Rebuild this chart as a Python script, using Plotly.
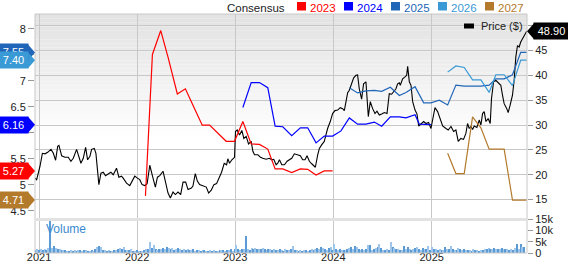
import plotly.graph_objects as go
import pandas as pd

# ---------------- data ----------------
price_t = [
    2020.959, 2020.976, 2021.010, 2021.034, 2021.061, 2021.088, 2021.122, 2021.146, 2021.169, 2021.190,
    2021.203, 2021.231, 2021.264, 2021.298, 2021.325, 2021.349, 2021.383, 2021.400, 2021.427, 2021.451,
    2021.475, 2021.495, 2021.519, 2021.536, 2021.563, 2021.580, 2021.610, 2021.631, 2021.654, 2021.678,
    2021.705, 2021.732, 2021.756, 2021.790, 2021.814, 2021.841, 2021.858, 2021.892, 2021.925, 2021.953,
    2021.976, 2022.003, 2022.027, 2022.051, 2022.078, 2022.102, 2022.129, 2022.153, 2022.186, 2022.207,
    2022.231, 2022.264, 2022.288, 2022.315, 2022.339, 2022.366, 2022.390, 2022.417, 2022.444, 2022.468,
    2022.495, 2022.519, 2022.553, 2022.569, 2022.593, 2022.614, 2022.637, 2022.671, 2022.705, 2022.729,
    2022.756, 2022.783, 2022.810, 2022.834, 2022.861, 2022.888, 2022.912, 2022.925, 2022.942, 2022.966,
    2022.993, 2023.003, 2023.020, 2023.044, 2023.068, 2023.088, 2023.112, 2023.136, 2023.163, 2023.180,
    2023.197, 2023.231, 2023.258, 2023.281, 2023.315, 2023.349, 2023.373, 2023.393, 2023.417, 2023.434,
    2023.451, 2023.475, 2023.502, 2023.529, 2023.553, 2023.576, 2023.603, 2023.637, 2023.664, 2023.688,
    2023.712, 2023.732, 2023.756, 2023.780, 2023.800, 2023.817, 2023.841, 2023.858, 2023.881, 2023.908,
    2023.925, 2023.942, 2023.969, 2023.993, 2024.017, 2024.044, 2024.071, 2024.095, 2024.112, 2024.129,
    2024.146, 2024.163, 2024.186, 2024.207, 2024.231, 2024.247, 2024.264, 2024.288, 2024.308, 2024.332,
    2024.356, 2024.376, 2024.400, 2024.424, 2024.444, 2024.468, 2024.492, 2024.519, 2024.546, 2024.569,
    2024.593, 2024.614, 2024.637, 2024.654, 2024.671, 2024.681, 2024.705, 2024.729, 2024.746, 2024.756,
    2024.773, 2024.790, 2024.807, 2024.831, 2024.851, 2024.868, 2024.892, 2024.919, 2024.942, 2024.969,
    2024.993, 2025.020, 2025.034, 2025.061, 2025.088, 2025.112, 2025.146, 2025.169, 2025.197, 2025.224,
    2025.247, 2025.271, 2025.298, 2025.325, 2025.349, 2025.366, 2025.383, 2025.400, 2025.417, 2025.434,
    2025.461, 2025.485, 2025.502, 2025.519, 2025.536, 2025.553, 2025.576, 2025.597, 2025.610, 2025.631,
    2025.654, 2025.678, 2025.705, 2025.722, 2025.739, 2025.766, 2025.780, 2025.800, 2025.824, 2025.841,
    2025.858, 2025.875, 2025.892, 2025.908, 2025.925, 2025.949, 2025.969,
]
price_v = [
    19.3, 19.0, 21.7, 24.3, 24.2, 24.5, 25.1, 24.3, 22.9, 25.7,
    25.9, 23.8, 23.5, 23.5, 22.7, 23.3, 25.1, 24.0, 22.3, 23.3,
    25.5, 23.0, 23.7, 25.1, 25.3, 24.3, 18.0, 20.3, 20.5, 19.8,
    20.1, 20.5, 20.0, 21.3, 19.5, 19.7, 19.3, 18.3, 17.8, 18.7,
    19.7, 19.3, 19.0, 18.0, 17.8, 18.2, 21.9, 20.0, 17.5, 19.5,
    19.8, 20.7, 18.7, 16.3, 15.3, 16.5, 16.0, 16.5, 16.0, 18.5,
    18.5, 17.0, 17.3, 17.7, 20.2, 18.7, 18.0, 17.8, 17.5, 16.3,
    16.9, 18.0, 18.2, 19.3, 20.5, 22.3, 22.0, 23.2, 22.3, 23.0,
    23.5, 28.7, 29.0, 28.0, 28.9, 27.3, 27.7, 26.2, 26.7, 24.7,
    24.0, 24.0, 23.5, 23.3, 23.1, 23.3, 23.0, 23.1, 22.0, 22.3,
    23.0, 22.0, 22.0, 22.7, 23.0, 23.3, 24.2, 24.0, 23.8, 23.0,
    23.0, 23.8, 22.7, 22.2, 21.7, 21.5, 24.0, 25.3, 26.0, 26.7,
    28.0, 29.3, 30.7, 32.3, 32.9, 33.0, 33.5, 33.3, 32.9, 35.0,
    36.5, 37.0, 38.3, 39.5, 40.0, 40.1, 37.3, 35.2, 38.3, 38.7,
    31.7, 34.7, 33.3, 32.3, 32.8, 32.0, 32.2, 32.5, 32.3, 36.3,
    36.2, 36.7, 37.3, 38.3, 38.5, 38.0, 39.3, 39.7, 40.0, 41.8,
    38.7, 38.0, 34.7, 33.0, 32.2, 29.8, 30.3, 30.7, 30.3, 30.5,
    29.3, 32.3, 33.5, 32.7, 31.0, 29.8, 29.3, 29.0, 29.7, 28.7,
    29.0, 26.7, 27.3, 27.1, 28.3, 30.3, 29.3, 29.7, 29.1, 29.8,
    29.5, 31.0, 30.0, 32.3, 32.7, 30.7, 31.3, 30.3, 35.3, 38.7,
    39.0, 38.5, 38.0, 36.0, 34.3, 33.3, 32.5, 34.0, 36.0, 39.0,
    43.7, 46.0, 45.7, 46.7, 47.3, 48.3, 48.9,
]

# consensus EPS estimates by fiscal year (left axis)
eps2023_t = [2022.085, 2022.156, 2022.241, 2022.315, 2022.410, 2022.492, 2022.580, 2022.664, 2022.739,
             2022.908, 2022.993, 2023.078, 2023.163, 2023.247, 2023.332, 2023.407, 2023.485, 2023.576,
             2023.664, 2023.739, 2023.824, 2023.908, 2023.993]
eps2023_v = [4.79, 7.51, 7.97, 7.46, 6.75, 6.85, 6.49, 6.15, 6.15,
             5.84, 5.84, 6.22, 5.79, 5.78, 5.69, 5.31, 5.31, 5.24,
             5.31, 5.30, 5.19, 5.27, 5.27]

eps2024_t = [2023.078, 2023.163, 2023.247, 2023.332, 2023.407, 2023.485, 2023.576, 2023.664, 2023.739,
             2023.824, 2023.908, 2023.993, 2024.078, 2024.163, 2024.247, 2024.332, 2024.417, 2024.492,
             2024.580, 2024.671, 2024.739, 2024.831, 2024.875, 2024.993]
eps2024_v = [6.49, 6.97, 6.97, 6.87, 6.13, 6.12, 5.95, 6.10, 6.10,
             5.81, 5.94, 5.94, 6.04, 6.29, 6.17, 6.17, 6.21, 6.13,
             6.31, 6.31, 6.29, 6.35, 6.17, 6.16]

eps2025_t = [2024.163, 2024.247, 2024.332, 2024.417, 2024.492, 2024.580, 2024.671, 2024.739, 2024.831,
             2024.919, 2024.993, 2025.078, 2025.163, 2025.247, 2025.332, 2025.417, 2025.502, 2025.586,
             2025.654, 2025.739, 2025.824, 2025.908, 2025.969]
eps2025_v = [6.87, 6.77, 6.81, 6.82, 6.80, 6.88, 6.72, 6.78, 6.89,
             6.58, 6.58, 6.63, 6.54, 6.92, 6.90, 6.90, 6.90, 6.92,
             7.04, 7.04, 7.12, 7.55, 7.55]

eps2026_t = [2025.163, 2025.247, 2025.332, 2025.417, 2025.502, 2025.586, 2025.654, 2025.739, 2025.824,
             2025.908, 2025.969]
eps2026_v = [7.17, 7.29, 7.26, 7.02, 7.02, 6.78, 7.12, 7.12, 6.91, 7.40, 7.40]

eps2027_t = [2025.163, 2025.247, 2025.332, 2025.417, 2025.502, 2025.586, 2025.739, 2025.824, 2025.969]
eps2027_v = [5.61, 5.22, 5.22, 6.31, 6.10, 5.69, 5.69, 4.71, 4.71]

# weekly volume, thousands of shares
vol_start = "2020-12-18"
vol_k = [
    1.2, 1.6, 1.4, 2.0, 1.5, 1.8, 1.3, 2.2, 14.2, 2.4,
    3.0, 2.2, 1.9, 1.6, 1.4, 1.2, 1.3, 1.1, 1.0, 1.2,
    1.1, 1.3, 0.9, 1.2, 1.4, 1.0, 1.2, 1.5, 1.1, 0.9,
    1.3, 1.0, 1.6, 2.6, 3.0, 2.8, 1.4, 1.2, 1.0, 1.3,
    1.1, 0.9, 1.2, 1.4, 1.6, 2.2, 2.0, 2.6, 1.5, 1.2,
    1.4, 1.8, 1.1, 0.9, 1.2, 1.0, 0.8, 1.0, 1.3, 1.6,
    1.9, 5.0, 2.4, 3.4, 1.8, 1.4, 2.0, 1.6, 2.2, 1.7,
    2.5, 2.1, 1.8, 2.3, 1.5, 1.9, 2.2, 1.6, 1.4, 1.8,
    1.5, 1.7, 1.2, 1.4, 1.6, 1.1, 1.3, 1.5, 1.0, 1.2,
    1.4, 1.1, 0.9, 1.3, 1.0, 1.2, 1.1, 0.9, 1.3, 1.5,
    1.2, 1.0, 1.4, 1.2, 1.6, 1.1, 2.0, 3.6, 1.8, 1.4,
    1.6, 2.0, 7.5, 1.9, 1.5, 2.2, 1.8, 2.1, 1.7, 1.9,
    1.6, 2.4, 1.8, 1.5, 2.0, 1.6, 1.4, 1.8, 1.2, 1.5,
    1.7, 1.3, 1.1, 1.6, 1.2, 1.4, 1.9, 3.0, 1.5, 1.2,
    1.0, 1.3, 1.1, 1.5, 1.2, 1.0, 1.4, 1.7, 1.3, 1.9,
    2.2, 1.6, 2.5, 2.4, 1.8, 1.5, 2.2, 2.6, 1.4, 4.0,
    1.8, 1.4, 1.6, 1.3, 1.5, 1.2, 1.9, 2.3, 2.6, 1.7,
    3.0, 2.5, 1.6, 1.5, 1.8, 1.4, 1.6, 3.5, 3.4, 1.5,
    1.8, 2.4, 2.8, 4.0, 2.2, 1.3, 1.5, 1.9, 1.4, 5.0,
    2.6, 2.2, 1.8, 1.6, 1.4, 1.2, 3.0, 1.9, 2.5, 1.8,
    1.3, 1.6, 2.2, 2.8, 1.7, 1.5, 2.3, 1.9, 2.0, 3.3,
    1.3, 2.5, 1.8, 1.6, 1.4, 1.7, 1.3, 1.2, 2.5, 2.0,
    1.6, 3.3, 1.7, 1.4, 1.5, 2.4, 1.6, 1.4, 1.8, 1.2,
    1.5, 1.3, 1.1, 1.6, 1.2, 1.4, 1.0, 1.3, 1.5, 1.7,
    1.9, 2.2, 2.0, 1.8, 2.1, 1.6, 2.0, 1.7, 2.2, 1.8,
    1.6, 2.0, 1.5, 1.8, 1.4, 2.2, 4.0, 1.9, 3.8, 2.8, 2.8,
]

year_ticks = [2021, 2022, 2023, 2024, 2025]
price_ticks = [15, 20, 25, 30, 35, 40, 45, 50]
price_tick_text = ["15", "20", "25", "30", "35", "40", "45", ""]   # 50 hidden behind the price tag
eps_ticks = [4.5, 5, 5.5, 6, 6.5, 7, 7.5, 8]
eps_tick_text = ["4.5", "5", "5.5", "", "6.5", "7", "", "8"]       # 6 and 7.5 hidden behind tags
vol_ticks = [0, 5, 10, 15]
vol_tick_text = ["0", "5k", "10k", "15k"]

series = [  # label, times, values, colour
    ("2023", eps2023_t, eps2023_v, "#ff0000"),
    ("2024", eps2024_t, eps2024_v, "#0000ff"),
    ("2025", eps2025_t, eps2025_v, "#2066b8"),
    ("2026", eps2026_t, eps2026_v, "#3a9ad6"),
    ("2027", eps2027_t, eps2027_v, "#b37a2c"),
]

# ---------------- helpers ----------------
def to_date(t):
    y = int(t)
    a = pd.Timestamp(year=y, month=1, day=1)
    b = pd.Timestamp(year=y + 1, month=1, day=1)
    return a + (b - a) * (t - y)

def dates(ts):
    return [to_date(t) for t in ts]

W, H = 568, 264
L, R, T, B = 35, 41, 14, 11
PW, PH = W - L - R, H - T - B

def pxp(x):
    return (x - L) / PW

def pyp(y):
    return (H - B - y) / PH

FONT = "Liberation Sans, Arial, sans-serif"
GRID = "#c8c8c8"
split = pyp(218)

fig = go.Figure()

# background gradient of main panel
n_bands = 30
top_y, bot_y = 14, 140
for i in range(n_bands):
    y0 = top_y + (bot_y - top_y) * i / n_bands
    y1 = top_y + (bot_y - top_y) * (i + 1) / n_bands
    g = int(227 + (255 - 227) * i / (n_bands - 1))
    fig.add_shape(type="rect", xref="paper", yref="paper", x0=0, x1=1,
                  y0=pyp(y1), y1=pyp(y0), fillcolor=f"rgb({g},{g},{g})",
                  line_width=0, layer="below")

# volume bars
vol_dates = pd.date_range(start=vol_start, periods=len(vol_k), freq="7D")
vol_colors = ["#5b9bd5" if i % 2 == 0 else "#9fc5ea" for i in range(len(vol_k))]
fig.add_trace(go.Bar(x=vol_dates, y=vol_k, marker_color=vol_colors, marker_line_width=0,
                     width=4.5 * 86400000, xaxis="x", yaxis="y3", hoverinfo="skip"))

# EPS lines
for name, ts, vs, col in series:
    fig.add_trace(go.Scatter(x=dates(ts), y=vs, mode="lines", line=dict(color=col, width=1.2),
                             xaxis="x", yaxis="y2", name=name, hoverinfo="skip"))

# price line
fig.add_trace(go.Scatter(x=dates(price_t), y=price_v, mode="lines",
                         line=dict(color="#000000", width=1.1), xaxis="x", yaxis="y",
                         name="Price ($)", hoverinfo="skip"))

tick_font = dict(family=FONT, size=11, color="#222222")

fig.update_layout(
    width=W, height=H, margin=dict(l=L, r=R, t=T, b=B, autoexpand=False),
    paper_bgcolor="white", plot_bgcolor="rgba(0,0,0,0)",
    showlegend=False, bargap=0,
    xaxis=dict(domain=[0, 1], anchor="y3", automargin=False,
               range=[to_date(2020.959), to_date(2025.972)],
               tickvals=[pd.Timestamp(year=y, month=1, day=1) for y in year_ticks],
               ticktext=[str(y) for y in year_ticks],
               showgrid=True, gridcolor=GRID, gridwidth=1, zeroline=False,
               showline=False, ticks="", ticklabelstandoff=-4, tickfont=tick_font),
    yaxis=dict(domain=[split, 1], anchor="x", side="right", automargin=False,
               range=[11.28, 52.35], tickvals=price_ticks, ticktext=price_tick_text,
               showgrid=True, gridcolor=GRID, zeroline=False,
               ticks="outside", ticklen=5, tickcolor="#999999", tickfont=tick_font),
    yaxis2=dict(overlaying="y", anchor="x", side="left", automargin=False,
                range=[4.365, 8.288], tickvals=eps_ticks, ticktext=eps_tick_text,
                showgrid=False, zeroline=False,
                ticks="outside", ticklen=6, tickcolor="#999999", tickfont=tick_font),
    yaxis3=dict(domain=[0, split], anchor="x", side="right", automargin=False,
                range=[0, 15.6], tickvals=vol_ticks, ticktext=vol_tick_text,
                showgrid=False, zeroline=False,
                ticks="outside", ticklen=5, tickcolor="#999999", tickfont=tick_font),
)

# panel borders and separator band
fig.add_shape(type="rect", xref="paper", yref="paper", x0=0, x1=1, y0=0, y1=1,
              line=dict(color=GRID, width=1), layer="above")
fig.add_shape(type="rect", xref="paper", yref="paper", x0=0, x1=1,
              y0=pyp(221), y1=pyp(218), fillcolor="#e2e2e2", line_width=0, layer="above")

# left value tags for the latest consensus estimates
for name, ts, vs, col in series:
    val = vs[-1]
    fig.add_shape(type="path", xref="paper", yref="y2", xsizemode="pixel", ysizemode="pixel",
                  xanchor=0, yanchor=val, path="M -7,-8 L 0,0 L -7,8 Z",
                  fillcolor=col, line_width=0, layer="above")
    fig.add_annotation(xref="paper", yref="y2", x=0, y=val, xanchor="right", yanchor="middle",
                       xshift=-6, text="%.2f" % val, showarrow=False, width=29, height=16,
                       bgcolor=col, borderpad=0, align="center",
                       font=dict(family=FONT, size=11, color="white"))

# right price tag
last_price = price_v[-1]
fig.add_shape(type="path", xref="paper", yref="y", xsizemode="pixel", ysizemode="pixel",
              xanchor=1, yanchor=last_price, path="M 0,0 L 7,-8 L 7,8 Z",
              fillcolor="#000000", line_width=0, layer="above")
fig.add_annotation(xref="paper", yref="y", x=1, y=last_price, xanchor="left", yanchor="middle",
                   xshift=6, text="%.2f" % last_price, showarrow=False, width=35, height=16,
                   bgcolor="#000000", borderpad=0, align="center",
                   font=dict(family=FONT, size=11, color="white"))

# top legend: Consensus + years
leg_font_size = 11.5
fig.add_annotation(xref="paper", yref="paper", x=pxp(225), y=pyp(0), xanchor="left",
                   yanchor="top", text="Consensus", showarrow=False,
                   font=dict(family=FONT, size=leg_font_size, color="#222222"))
for i, (name, ts, vs, col) in enumerate(series):
    sx = 297 + 47 * i
    fig.add_shape(type="rect", xref="paper", yref="paper", x0=pxp(sx), x1=pxp(sx + 9),
                  y0=pyp(10.5), y1=pyp(2), fillcolor=col, line_width=0)
    fig.add_annotation(xref="paper", yref="paper", x=pxp(sx + 11), y=pyp(0), xanchor="left",
                       yanchor="top", text=name, showarrow=False,
                       font=dict(family=FONT, size=leg_font_size, color=col))

# price legend inside plot
fig.add_shape(type="rect", xref="paper", yref="paper", x0=pxp(464), x1=pxp(474),
              y0=pyp(28.5), y1=pyp(23.5), fillcolor="#000000", line_width=0)
fig.add_annotation(xref="paper", yref="paper", x=pxp(479), y=pyp(26), xanchor="left",
                   yanchor="middle", text="Price ($)", showarrow=False,
                   font=dict(family=FONT, size=11, color="#222222"))

# volume label
fig.add_annotation(xref="paper", yref="paper", x=pxp(44), y=pyp(229), xanchor="left",
                   yanchor="middle", text="Volume", showarrow=False,
                   font=dict(family=FONT, size=12, color="#3b8bd0"))

fig.write_html("out.html")
